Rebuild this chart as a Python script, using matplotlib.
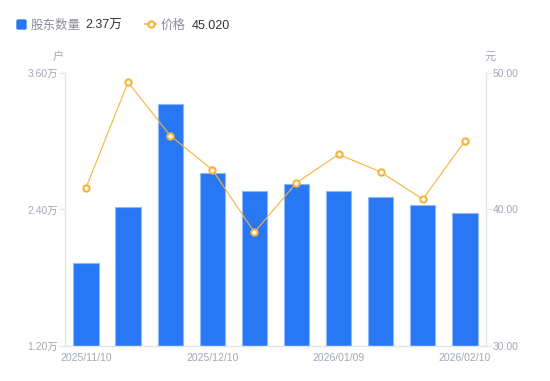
import matplotlib
matplotlib.use('Agg')
import matplotlib.pyplot as plt
import matplotlib.patches as mpatches
from matplotlib.lines import Line2D
import numpy as np

plt.rcParams['font.family'] = ['Liberation Sans', 'Noto Sans CJK SC', 'DejaVu Sans']

# data
dates = ['2025/11/10', '2025/11/20', '2025/11/30', '2025/12/10', '2025/12/20',
         '2025/12/31', '2026/01/09', '2026/01/20', '2026/01/30', '2026/02/10']
holders = [1.93, 2.42, 3.33, 2.72, 2.56, 2.62, 2.56, 2.51, 2.44, 2.37]   # 万户
price = [41.58, 49.32, 45.41, 42.92, 38.33, 41.96, 44.04, 42.75, 40.75, 45.02]
left_ticks = [1.2, 2.4, 3.6]
right_ticks = [30, 40, 50]
shown = [0, 3, 6, 9]

bar_c = '#2878f5'
line_c = '#f7b23b'
tick_c = '#a3a7b7'
axis_c = '#e3e5ea'

fig = plt.figure(figsize=(5.5, 3.81), dpi=100)
ax = fig.add_axes([0.118, 0.0919, 0.7656, 0.7165])
x = np.arange(len(dates))
ax.bar(x, holders, width=0.6, color=bar_c, edgecolor='#8fb8fa', linewidth=0.8, zorder=2)
ax.set_xlim(-0.5, len(dates) - 0.5)
ax.set_ylim(left_ticks[0], left_ticks[-1])
ax.set_yticks(left_ticks)
ax.set_yticklabels(['%.2f万' % v for v in left_ticks])
ax.set_xticks(x[shown])
ax.set_xticklabels([dates[i] for i in shown])

ax2 = ax.twinx()
ax2.plot(x, price, color=line_c, lw=0.8, marker='o', ms=4.5, mfc='white',
         mec=line_c, mew=1.5, zorder=3)
ax2.set_ylim(right_ticks[0], right_ticks[-1])
ax2.set_yticks(right_ticks)
ax2.set_yticklabels(['%.2f' % v for v in right_ticks])

for a in (ax, ax2):
    for s in a.spines.values():
        s.set_visible(False)
ax.spines['left'].set_visible(True)
ax.spines['bottom'].set_visible(True)
ax2.spines['right'].set_visible(True)
for s in (ax.spines['left'], ax.spines['bottom'], ax2.spines['right']):
    s.set_color(axis_c)
    s.set_linewidth(1)
ax.tick_params(axis='y', colors=axis_c, labelcolor=tick_c, labelsize=7.5, length=4, pad=1)
ax.tick_params(axis='x', length=0, labelcolor=tick_c, labelsize=7.5, pad=5)
ax2.tick_params(axis='y', colors=axis_c, labelcolor=tick_c, labelsize=7.5, length=4, pad=1)

fig.text(58 / 550, 1 - 57 / 381, '户', color=tick_c, fontsize=8, ha='center', va='center')
fig.text(490 / 550, 1 - 57 / 381, '元', color=tick_c, fontsize=8, ha='center', va='center')

# legend header
ly = 1 - 24.5 / 381
fig.patches.append(mpatches.FancyBboxPatch((17 / 550, 1 - 29 / 381), 9 / 550, 9 / 381,
                   boxstyle='round,pad=0,rounding_size=0.003', transform=fig.transFigure,
                   color=bar_c))
fig.text(31 / 550, ly, '股东数量', color='#8a8e9c', fontsize=9, va='center_baseline')
fig.text(85 / 550, ly, '%.2f万' % holders[-1], color='#333333', fontsize=9, va='center_baseline')
fig.lines.append(Line2D([145 / 550, 156 / 550], [1 - 24 / 381, 1 - 24 / 381],
                        transform=fig.transFigure, color=line_c, lw=1.2))
fig.lines.append(Line2D([150.5 / 550], [1 - 24 / 381], transform=fig.transFigure,
                        color=line_c, marker='o', ms=4.5, mfc='white', mew=1.5, ls='none'))
fig.text(161 / 550, ly, '价格', color='#8a8e9c', fontsize=9, va='center_baseline')
fig.text(192 / 550, ly, '%.3f' % price[-1], color='#333333', fontsize=9, va='center_baseline')

fig.savefig('out.png', dpi=100)
